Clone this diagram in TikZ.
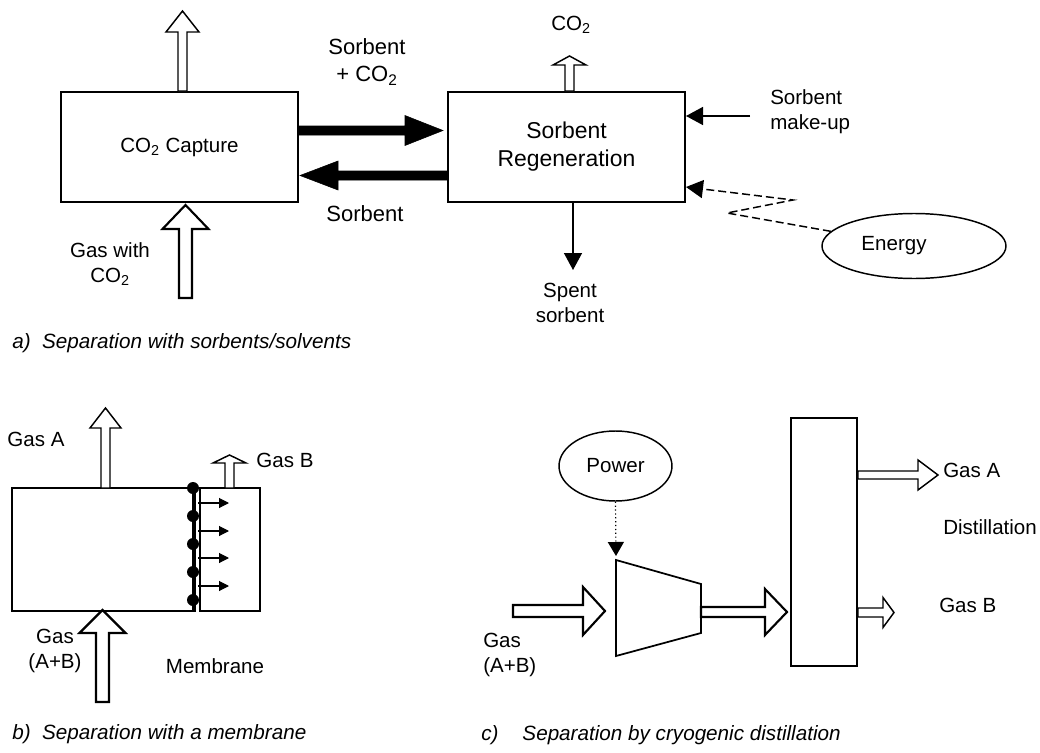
\documentclass[tikz,border=0pt]{standalone}
\usepackage{fontspec}
\setmainfont{Liberation Sans}
\usetikzlibrary{calc,arrows.meta,shapes.geometric}
\newcommand\blockarrow[6][]{%
  \coordinate (ba-h) at ($(#3)!#6*0.75pt!(#2)$);
  \draw[#1] ($(#2)!#4*0.75pt!90:(#3)$) -- ($(ba-h)!#4*0.75pt!-90:(#2)$) -- ($(ba-h)!#5*0.75pt!-90:(#2)$) -- (#3) -- ($(ba-h)!#5*0.75pt!90:(#2)$) -- ($(ba-h)!#4*0.75pt!90:(#2)$) -- ($(#2)!#4*0.75pt!-90:(#3)$) -- cycle;
}
\tikzset{
  box/.style={draw, line width=1.5pt, inner sep=0pt},
  txt/.style={font=\fontsize{15.4pt}{18.5pt}\selectfont, inner sep=0pt, align=center},
  bigtxt/.style={font=\fontsize{16.5pt}{20pt}\selectfont, inner sep=0pt, align=center},
  captxt/.style={font=\fontsize{15.5pt}{18pt}\selectfont\itshape, inner sep=0pt, anchor=west},
  hollow/.style={draw, fill=white, line width=1.1pt, line join=miter},
  hollowthick/.style={draw, fill=white, line width=1.6pt, line join=miter},
  solidblk/.style={fill=black},
  thinarr/.style={line width=1.1pt, -{Triangle[length=12.75pt,width=13.5pt]}},
  smallarr/.style={line width=0.8pt, -{Triangle[length=7.5pt,width=7.5pt]}},
}
\begin{document}
\begin{tikzpicture}[x=0.75pt,y=-0.75pt]
\useasboundingbox (0,0) rectangle (1040,753);
% ---------- a) ----------
\node[box, minimum width=177.75pt, minimum height=82.5pt, txt] (capt) at (179.5,147) {CO\textsubscript{2} Capture};
\node[box, minimum width=177.75pt, minimum height=82.5pt, font=\fontsize{17.2pt}{21pt}\selectfont, align=center] (regen) at (566.5,147) {Sorbent\\Regeneration};
% capture outlet
\coordinate (capOut) at (182.5,11);
\blockarrow[hollow]{capt.north -| capOut}{capOut}{4.5}{16.5}{21}
% gas in
\coordinate (gasInS) at (185.5,298);
\coordinate (gasInT) at (185.5,205);
\blockarrow[hollowthick]{gasInS}{gasInT}{6.5}{23}{24}
\node[txt] (gaswith) at (110,264) {Gas with\\CO\textsubscript{2}};
% sorbent + CO2
\coordinate (sorbTip) at (443,130.5);
\blockarrow[solidblk]{capt.east |- sorbTip}{sorbTip}{4.5}{15}{38}
\node[bigtxt] (lsco2) at (367,62) {Sorbent\\+ CO\textsubscript{2}};
% sorbent return
\coordinate (retTip) at (300,175.5);
\blockarrow[solidblk]{regen.west |- retTip}{retTip}{4.5}{14.5}{38}
\node[bigtxt] (lsorb) at (365,214) {Sorbent};
% CO2 out
\coordinate (co2T) at (569.5,56);
\blockarrow[hollow]{regen.north -| co2T}{co2T}{4.5}{16.5}{9}
\node[txt] (co2lab) at (571,25) {CO\textsubscript{2}};
% make-up
\coordinate (mkS) at (750,116);
\draw[thinarr] (mkS) -- (mkS -| regen.east);
\node[txt, align=left, anchor=west] (mklab) at (770,111.5) {Sorbent\\make-up};
% energy
\node[draw, ellipse, line width=1.1pt, minimum width=138pt, minimum height=48.75pt] (energy) at (914,246) {};
\node[txt] (entxt) at (894,246) {Energy};
\coordinate (enY) at (0,187);
\draw[thinarr, dash pattern=on 6pt off 3pt] (energy.170) -- (727,213) -- (793,200) -- (regen.east |- enY);
% spent
\coordinate (spentT) at (573,270);
\draw[thinarr] (regen.south -| spentT) -- (spentT);
\node[txt] (spent) at (570,303) {Spent\\sorbent};
\node[captxt] (capa) at (12,343) {a)\ \ Separation with sorbents/solvents};
% ---------- b) ----------
\draw[line width=1pt] (196,611) -- (12,611) -- (12,488) -- (260,488) -- (260,611) -- (200,611) -- (200,488);
\draw[line width=2.6pt] (194,488) -- (194,611);
\foreach \yy in {488,516,544,572,600} \fill (193,\yy) circle[radius=4.5pt];
\foreach \yy in {503,531,558,586} \draw[smallarr] (198,\yy) -- (229,\yy);
\coordinate (gaS) at (105.5,488); \coordinate (gaT) at (105.5,408);
\blockarrow[hollow]{gaS}{gaT}{4.5}{15.5}{20}
\node[txt] (gaslabA) at (36,439) {Gas A};
\coordinate (gbS) at (229.5,488); \coordinate (gbT) at (229.5,455);
\blockarrow[hollow]{gbS}{gbT}{4.5}{16.5}{8}
\node[txt] (gaslabB) at (285,460) {Gas B};
\coordinate (gmS) at (102.5,702); \coordinate (gmT) at (102.5,610);
\blockarrow[hollowthick]{gmS}{gmT}{6.5}{23}{23}
\node[txt] (gasmix) at (55,651) {Gas\\(A+B)};
\node[txt] (memlab) at (215,666) {Membrane};
\node[captxt] (capb) at (12,734) {b)\ \ Separation with a membrane};
% ---------- c) ----------
\coordinate (ciS) at (513,611); \coordinate (ciT) at (605,611);
\blockarrow[hollowthick]{ciS}{ciT}{6}{24}{22}
\node[txt, align=left, anchor=west] (gasmixc) at (483,655) {Gas\\(A+B)};
\coordinate (c1) at (616,560); \coordinate (c2) at (701,584);
\coordinate (c3) at (701,633); \coordinate (c4) at (616,656);
\draw[line width=1.3pt, line join=miter] (c1) -- (c2) -- (c3) -- (c4) -- cycle;
\node[draw, ellipse, line width=1.1pt, minimum width=84.75pt, minimum height=52.5pt, txt] (power) at (615.5,466) {Power};
\draw[line width=0.9pt, dotted, -{Triangle[length=10.5pt,width=12pt]}] (power.south) -- (c1 |- 0,556);
\node[box, line width=1.3pt, minimum width=49.5pt, minimum height=186pt] (col) at (824,542) {};
\coordinate (ccT) at (787,612);
\blockarrow[hollowthick]{c2 |- ccT}{ccT}{5}{23}{22}
\coordinate (cgaT) at (938,475);
\blockarrow[hollow]{col.east |- cgaT}{cgaT}{4}{15}{20}
\coordinate (cgbT) at (894,612.5);
\blockarrow[hollow]{col.east |- cgbT}{cgbT}{4.5}{15}{11}
\node[txt, anchor=west] (cgalab) at (943,470) {Gas A};
\node[txt, anchor=west] (distlab) at (943,527) {Distillation};
\node[txt, anchor=west] (cgblab) at (939,605) {Gas B};
\node[captxt] (capc) at (481,735) {c)\hspace{18pt}Separation by cryogenic distillation};
\end{tikzpicture}
\end{document}
